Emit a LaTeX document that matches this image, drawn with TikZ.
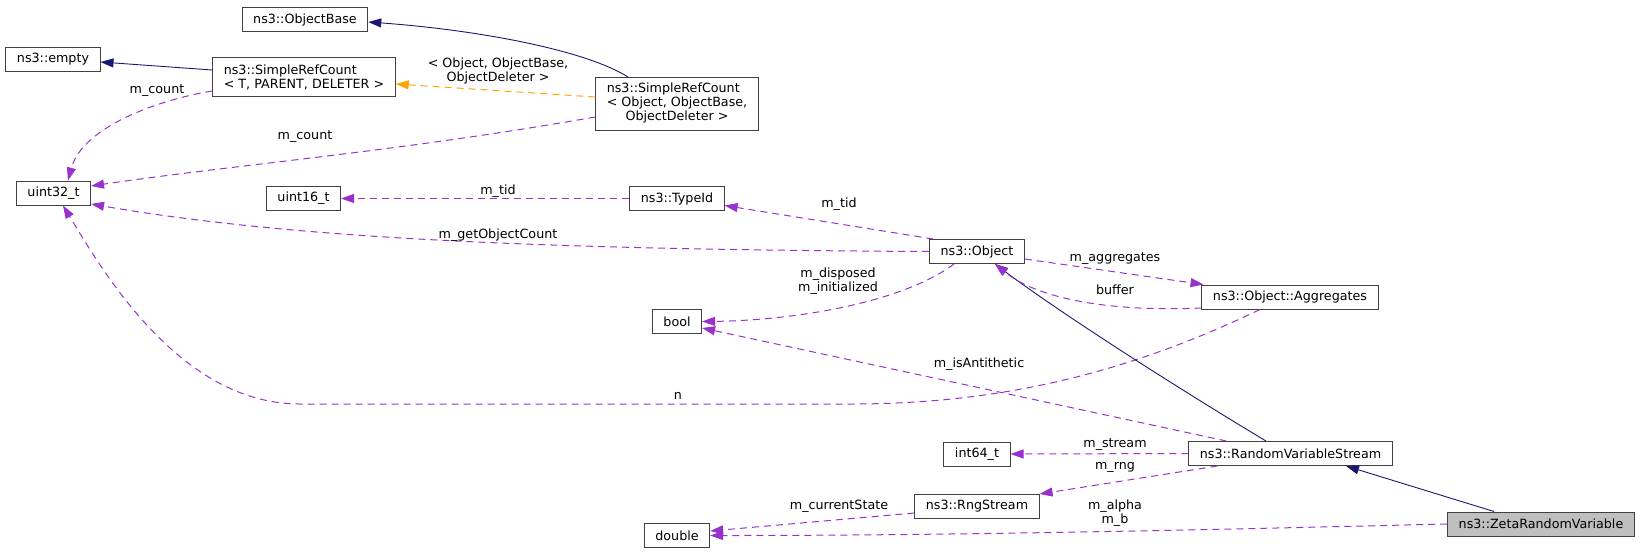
\documentclass[tikz,border=0pt]{standalone}
\usepackage{fontspec}
\setmainfont{DejaVu Sans}
\usetikzlibrary{arrows.meta}
\definecolor{inhcol}{RGB}{25,25,112}
\definecolor{usecol}{RGB}{153,50,204}
\definecolor{tplcol}{RGB}{255,165,0}
\definecolor{boxcol}{RGB}{64,64,64}
\definecolor{selcol}{RGB}{191,191,191}
\tikzset{
  cls/.style={draw=boxcol, line width=1pt, fill=white, inner xsep=11pt, inner ysep=0pt, minimum height=24pt},
  lbl/.style={inner sep=0pt, align=center},
  inherit/.style={draw=inhcol, line width=0.9pt, -{Triangle[length=13pt,width=9pt]}, inhcol},
  member/.style={draw=usecol, line width=1pt, dash pattern=on 7pt off 5pt, -{Triangle[length=13pt,width=9pt]}, usecol},
  tmpl/.style={draw=tplcol, line width=1pt, dash pattern=on 7pt off 5pt, -{Triangle[length=13pt,width=9pt]}, tplcol}
}
\begin{document}
\begin{tikzpicture}[x=1pt, y=-1pt, font=\fontsize{12.7}{14}\selectfont]
  \useasboundingbox (0,0) rectangle (1643,555);

  \node[cls] (objbase) at (305,19.5) {ns3::ObjectBase};
  \node[cls] (empty) at (53,59) {ns3::empty};
  \node[cls, minimum height=39pt, align=left] (srct) at (304,77) {ns3::SimpleRefCount\\< T, PARENT, DELETER >};
  \node[cls, minimum height=53pt] (srcobj) at (677,104)
    {\begin{tabular}{@{}l@{}}ns3::SimpleRefCount\\< Object, ObjectBase,\\\multicolumn{1}{@{}c@{}}{ObjectDeleter >}\end{tabular}};
  \node[cls] (uint32) at (53.5,193) {uint32\_t};
  \node[cls] (uint16) at (303.5,198.5) {uint16\_t};
  \node[cls] (typeid) at (677,198.5) {ns3::TypeId};
  \node[cls] (object) at (977,251.5) {ns3::Object};
  \node[cls] (bool) at (677,321.5) {bool};
  \node[cls] (aggr) at (1290,297) {ns3::Object::Aggregates};
  \node[cls] (int64) at (977,454) {int64\_t};
  \node[cls] (rvs) at (1290.5,453.5) {ns3::RandomVariableStream};
  \node[cls] (rng) at (977,506.5) {ns3::RngStream};
  \node[cls] (double) at (677,535.5) {double};
  \node[cls, fill=selcol] (zeta) at (1541,524) {ns3::ZetaRandomVariable};

  \draw[inherit] ([yshift=7pt]srct.west) -- ([yshift=-3pt]empty.east);
  \draw[inherit] ([xshift=-49pt]srcobj.north) .. controls +(-43,-27) and +(110,8) .. ([yshift=-2.5pt]objbase.east);
  \draw[tmpl] ([yshift=7pt]srcobj.west) -- ([yshift=-7pt]srct.east);
  \draw[member] ([yshift=-14pt]srct.west) .. controls +(-50,8) and +(15,-55) .. ([xshift=14.5pt]uint32.north);
  \draw[member] ([yshift=-13pt]srcobj.west) .. controls +(-200,35) and +(150,-22) .. ([yshift=7pt]uint32.east);
  \draw[member] (typeid.west) -- (uint16.east);
  \draw[member] (object.west) .. controls +(-369,-2) and +(209,36) .. ([yshift=-11pt]uint32.east);
  \draw[member] ([xshift=-30pt]aggr.south) .. controls +(-150,72) and +(130,0) .. (850,404) -- (300,404)
    .. controls +(-120,0) and +(40,66) .. ([xshift=9.5pt]uint32.south);
  \draw[member] ([xshift=4pt]object.north west) -- ([yshift=-7pt]typeid.east);
  \draw[member] ([xshift=-23pt]object.south) .. controls +(-54,40) and +(88,-1) .. (bool.east);
  \draw[member] ([yshift=-7.5pt]object.east) -- ([xshift=2pt]aggr.north west);
  \draw[inherit] ([xshift=-24.5pt]rvs.north) .. controls +(-100,-60) and +(60,45) .. ([xshift=18pt]object.south);
  \draw[member] ([yshift=-11pt]aggr.west) .. controls +(-91,4) and +(43,35) .. ([xshift=18pt]object.south);
  \draw[member] ([xshift=38pt]rvs.north west) -- ([yshift=-6.5pt]bool.east);
  \draw[member] (rvs.west) -- (int64.east);
  \draw[member] ([xshift=29pt]rvs.south west) -- (rng.north east);
  \draw[member] ([yshift=-6.5pt]rng.west) -- ([yshift=4.5pt]double.east);
  \draw[member] (zeta.west) .. controls +(-250,6) and +(250,0) .. (double.east);
  \draw[inherit] ([xshift=-47pt]zeta.north) -- ([xshift=55.5pt]rvs.south);

  \node[lbl] (lcount1) at (157,91) {m\_count};
  \node[lbl] (ltmpl) at (498,70.5) {< Object, ObjectBase,\\ObjectDeleter >};
  \node[lbl] (lcount2) at (305,137) {m\_count};
  \node[lbl] (ltid1) at (498,191) {m\_tid};
  \node[lbl] (lobjcount) at (498,235) {m\_getObjectCount};
  \node[lbl] (ln) at (678,396) {n};
  \node[lbl] (ltid2) at (839,204) {m\_tid};
  \node[lbl] (lflags) at (838,281) {m\_disposed\\m\_initialized};
  \node[lbl] (laggr) at (1115,259) {m\_aggregates};
  \node[lbl] (lbuf) at (1115,290) {buffer};
  \node[lbl] (lanti) at (979,364) {m\_isAntithetic};
  \node[lbl] (lstream) at (1115,445) {m\_stream};
  \node[lbl] (lrng) at (1115,467) {m\_rng};
  \node[lbl] (lstate) at (839,506) {m\_currentState};
  \node[lbl] (lparams) at (1115,513.5) {m\_alpha\\m\_b};
\end{tikzpicture}
\end{document}
